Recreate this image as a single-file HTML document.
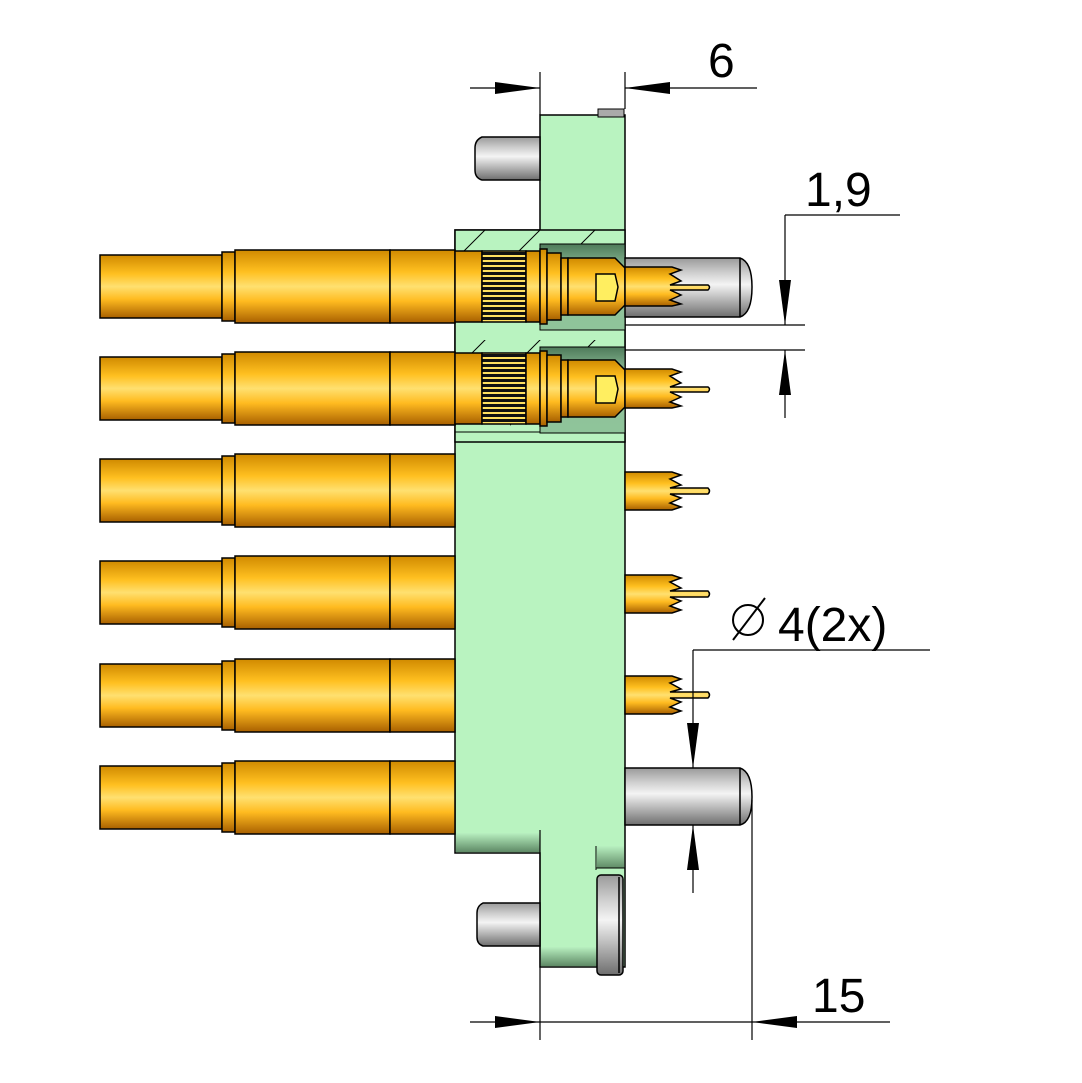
<!DOCTYPE html>
<html><head><meta charset="utf-8"><style>html,body{margin:0;padding:0;background:#fff}svg{display:block}</style></head>
<body>
<svg width="1082" height="1083" viewBox="0 0 1082 1083" xmlns="http://www.w3.org/2000/svg">
<defs>
<linearGradient id="gold" x1="0" y1="0" x2="0" y2="1">
<stop offset="0" stop-color="#d08a00"/><stop offset="0.3" stop-color="#ffc020"/><stop offset="0.5" stop-color="#ffe070"/><stop offset="0.7" stop-color="#ffbb20"/><stop offset="1" stop-color="#a86000"/>
</linearGradient>
<linearGradient id="grey" x1="0" y1="0" x2="0" y2="1">
<stop offset="0" stop-color="#9a9a9a"/><stop offset="0.25" stop-color="#cfcfcf"/><stop offset="0.45" stop-color="#f4f4f4"/><stop offset="0.65" stop-color="#c4c4c4"/><stop offset="1" stop-color="#6e6e6e"/>
</linearGradient>
<linearGradient id="pocket" x1="0" y1="0" x2="0" y2="1">
<stop offset="0" stop-color="#4e7a5a"/><stop offset="0.3" stop-color="#8fc09a"/><stop offset="1" stop-color="#8fc49a"/>
</linearGradient>
<linearGradient id="shade" x1="0" y1="0" x2="0" y2="1">
<stop offset="0" stop-color="#b8f0c0"/><stop offset="1" stop-color="#5f8a66"/>
</linearGradient>
<pattern id="hatch" width="55" height="55" patternUnits="userSpaceOnUse" patternTransform="translate(455,230)">
<line x1="-5" y1="35" x2="35" y2="-5" stroke="#000" stroke-width="1"/>
</pattern>
<pattern id="knurl" width="4" height="5" patternUnits="userSpaceOnUse">
<rect width="4" height="5" fill="#ffe060"/><rect y="2" width="4" height="3" fill="#111"/>
</pattern>
</defs>

<!-- green body -->
<path d="M540,115 H625 V967 H540 V853 H455 V230 H540 Z" fill="#b9f3c0" stroke="#000" stroke-width="1.5"/>
<rect x="598" y="109" width="26" height="8" fill="#aaa" stroke="#000"/>
<rect x="456" y="833" width="84" height="19" fill="url(#shade)"/>
<rect x="541" y="947" width="56" height="19" fill="url(#shade)"/>
<rect x="597" y="846" width="27" height="22" fill="url(#shade)"/>
<line x1="596" y1="846" x2="596" y2="870" stroke="#000"/>
<line x1="596" y1="868" x2="625" y2="868" stroke="#000"/>
<line x1="540" y1="853" x2="540" y2="967" stroke="#000" stroke-width="1.2"/>
<line x1="540" y1="830" x2="540" y2="853" stroke="#000" stroke-width="1.2"/>

<!-- section band -->
<rect x="455" y="230" width="170" height="212" fill="#b9f3c0" stroke="#000" stroke-width="1.5"/>
<rect x="455" y="230" width="170" height="212" fill="url(#hatch)"/>
<line x1="455" y1="432" x2="625" y2="432" stroke="#000"/>
<line x1="540" y1="323" x2="625" y2="323" stroke="#000"/>
<rect x="540" y="244" width="85" height="86" fill="url(#pocket)" stroke="#000"/>
<rect x="540" y="347" width="85" height="86" fill="url(#pocket)" stroke="#000"/>

<!-- grey pins -->
<g stroke="#000" stroke-width="1.5">
<path d="M540,137 H482 Q475,140 475,148 V170 Q475,178 482,180 H540 Z" fill="url(#grey)"/>
<path d="M540,903 H483 Q477,906 477,913 V937 Q477,944 483,946 H540 Z" fill="url(#grey)"/>
<path d="M625,258 H740 Q752,262 752,287 Q752,313 740,317 H625 Z" fill="url(#grey)"/>
<path d="M625,768 H740 Q752,772 752,797 Q752,822 740,825 H625 Z" fill="url(#grey)"/>
<rect x="597" y="875" width="26" height="100" rx="4" fill="url(#grey)"/>
<line x1="740" y1="258" x2="740" y2="317"/>
<line x1="740" y1="768" x2="740" y2="825"/>
<line x1="619" y1="877" x2="619" y2="973"/>
</g>

<!-- gold left tubes -->
<g stroke="#000" stroke-width="1.5" fill="url(#gold)">
<g id="t1">
<rect x="100" y="255" width="122" height="63"/>
<rect x="222" y="252" width="13" height="69"/>
<rect x="235" y="250" width="155" height="73"/>
<rect x="390" y="250" width="65" height="73"/>
</g>
<use href="#t1" y="102"/>
<use href="#t1" y="204"/>
<use href="#t1" y="306"/>
<use href="#t1" y="409"/>
<use href="#t1" y="511"/>
</g>

<!-- sectioned contacts rows 1-2 -->
<g id="c1" stroke="#000" stroke-width="1.5">
<rect x="455" y="251" width="27" height="71" fill="url(#gold)"/>
<rect x="482" y="251" width="44" height="71" fill="url(#knurl)"/>
<rect x="526" y="251" width="14" height="71" fill="url(#gold)"/>
<rect x="540" y="249" width="7" height="75" fill="url(#gold)"/>
<rect x="547" y="253" width="14" height="67" fill="url(#gold)"/>
<rect x="561" y="258" width="7" height="57" fill="url(#gold)"/>
<path d="M568,258 H615 L625,268 V305 L615,315 H568 Z" fill="url(#gold)"/>
<path d="M596,274 H615 L618,287 L615,301 H596 Z" fill="#ffee60"/>
<path d="M625,267 H672 L681,270 L670,274 L681,281 L670,285 L708,285 Q711,287 708,290 L670,290 L681,295 L670,300 L681,304 L672,306 H625 Z" fill="url(#gold)"/>
</g>
<use href="#c1" y="102"/>

<!-- right contacts rows 3-6 -->
<g id="r3" stroke="#000" stroke-width="1.5" fill="url(#gold)">
<path d="M625,472 H672 L681,475 L670,479 L681,485 L670,488 L708,488 Q711,491 708,494 L670,494 L681,498 L670,503 L681,507 L672,510 H625 Z"/>
</g>
<use href="#r3" y="103"/>
<use href="#r3" y="204"/>

<!-- dimensions -->
<g stroke="#000" stroke-width="1.2" fill="none">
<line x1="540" y1="72" x2="540" y2="115"/>
<line x1="625" y1="72" x2="625" y2="109"/>
<line x1="470" y1="88" x2="540" y2="88"/>
<line x1="625" y1="88" x2="757" y2="88"/>
<line x1="785" y1="215" x2="900" y2="215"/>
<line x1="785" y1="215" x2="785" y2="325"/>
<line x1="625" y1="325" x2="805" y2="325"/>
<line x1="625" y1="350" x2="805" y2="350"/>
<line x1="785" y1="350" x2="785" y2="418"/>
<line x1="693" y1="650" x2="930" y2="650"/>
<line x1="693" y1="650" x2="693" y2="768"/>
<line x1="693" y1="825" x2="693" y2="893"/>
<line x1="540" y1="967" x2="540" y2="1040"/>
<line x1="752" y1="800" x2="752" y2="1040"/>
<line x1="470" y1="1022" x2="890" y2="1022"/>
</g>
<g fill="#000">
<path d="M540,88 L495,82 L495,94 Z"/>
<path d="M625,88 L670,82 L670,94 Z"/>
<path d="M785,325 L779,280 L791,280 Z"/>
<path d="M785,350 L779,395 L791,395 Z"/>
<path d="M693,768 L687,723 L699,723 Z"/>
<path d="M693,825 L687,870 L699,870 Z"/>
<path d="M540,1022 L495,1016 L495,1028 Z"/>
<path d="M752,1022 L797,1016 L797,1028 Z"/>
</g>
<g font-family="Liberation Sans, sans-serif" font-size="48" fill="#000">
<text x="708" y="77">6</text>
<text x="805" y="206">1,9</text>
<text x="778" y="641">4(2x)</text>
<text x="812" y="1012">15</text>
</g>
<circle cx="748" cy="620" r="15" fill="none" stroke="#000" stroke-width="2"/>
<line x1="733" y1="640" x2="765" y2="598" stroke="#000" stroke-width="2"/>
</svg>
</body></html>
